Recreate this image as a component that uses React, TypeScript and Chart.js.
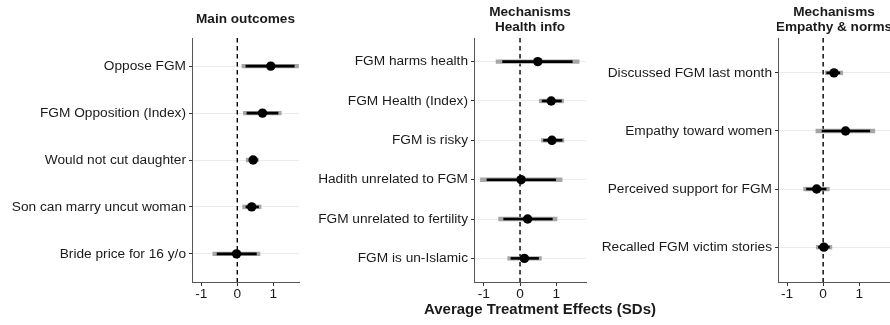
import React, { useEffect, useRef } from "react";
import { Chart, registerables } from "chart.js";

Chart.register(...registerables);

// Main outcomes
const mainLabels = [
  "Oppose FGM",
  "FGM Opposition (Index)",
  "Would not cut daughter",
  "Son can marry uncut woman",
  "Bride price for 16 y/o",
];
const mainEst = [0.93, 0.7, 0.44, 0.4, -0.02];
const mainLo90 = [0.23, 0.26, 0.33, 0.23, -0.57];
const mainHi90 = [1.59, 1.14, 0.56, 0.6, 0.54];
const mainLo95 = [0.12, 0.16, 0.24, 0.14, -0.69];
const mainHi95 = [1.71, 1.23, 0.6, 0.67, 0.64];

// Mechanisms: health information
const healthLabels = [
  "FGM harms health",
  "FGM Health (Index)",
  "FGM is risky",
  "Hadith unrelated to FGM",
  "FGM unrelated to fertility",
  "FGM is un-Islamic",
];
const healthEst = [0.49, 0.86, 0.88, 0.03, 0.21, 0.12];
const healthLo90 = [-0.49, 0.6, 0.64, -0.92, -0.46, -0.26];
const healthHi90 = [1.45, 1.15, 1.17, 0.99, 0.9, 0.52];
const healthLo95 = [-0.67, 0.52, 0.58, -1.1, -0.6, -0.35];
const healthHi95 = [1.64, 1.21, 1.22, 1.17, 1.03, 0.6];

// Mechanisms: empathy & norms
const normsLabels = [
  "Discussed FGM last month",
  "Empathy toward women",
  "Perceived support for FGM",
  "Recalled FGM victim stories",
];
const normsEst = [0.3, 0.62, -0.18, 0.02];
const normsLo90 = [0.09, -0.04, -0.47, -0.14];
const normsHi90 = [0.47, 1.3, 0.09, 0.18];
const normsLo95 = [0.05, -0.21, -0.55, -0.2];
const normsHi95 = [0.55, 1.44, 0.18, 0.25];

const xTickValues = [-1, 0, 1];
const xAxisTitle = "Average Treatment Effects (SDs)";

const FONT = "'Liberation Sans', Arial, Helvetica, sans-serif";
const TEXT = "#1a1a1a";

type PanelProps = {
  title: string[];
  labels: string[];
  est: number[];
  lo90: number[];
  hi90: number[];
  lo95: number[];
  hi95: number[];
  left: number;
  width: number;
  axisWidth: number;
  padRight: number;
  xMin: number;
  xMax: number;
};

const panelTitlePlugin = {
  id: "panelTitle",
  afterDraw(chart: any, _args: any, opts: any) {
    const { ctx, chartArea } = chart;
    const lines: string[] = opts.lines || [];
    ctx.save();
    ctx.beginPath();
    ctx.rect(chartArea.left - 1, 0, chart.width, chartArea.top);
    ctx.clip();
    ctx.fillStyle = TEXT;
    ctx.font = `bold 13.6px ${FONT}`;
    ctx.textAlign = "center";
    ctx.textBaseline = "middle";
    const cx = (chartArea.left + chartArea.right) / 2;
    const lh = 15;
    const startY = lines.length === 1 ? 19 : 12;
    lines.forEach((ln, i) => ctx.fillText(ln, cx, startY + i * lh));
    ctx.restore();
  },
};

function Panel(p: PanelProps) {
  const ref = useRef<HTMLCanvasElement | null>(null);

  useEffect(() => {
    const n = p.labels.length;
    const rows = p.labels.map((_, i) => i + 1);

    const datasets: any[] = [];
    // point estimates
    datasets.push({
      data: rows.map((y, i) => ({ x: p.est[i], y })),
      pointRadius: 4.7,
      pointBackgroundColor: "#000",
      pointBorderColor: "#000",
      pointBorderWidth: 0,
      showLine: false,
      order: 0,
    });
    // inner intervals
    rows.forEach((y, i) => {
      datasets.push({
        data: [
          { x: p.lo90[i], y },
          { x: p.hi90[i], y },
        ],
        showLine: true,
        borderColor: "#000",
        borderWidth: 2.6,
        borderCapStyle: "butt",
        pointRadius: 0,
        order: 1,
      });
    });
    // outer intervals
    rows.forEach((y, i) => {
      datasets.push({
        data: [
          { x: p.lo95[i], y },
          { x: p.hi95[i], y },
        ],
        showLine: true,
        borderColor: "#a6a6a6",
        borderWidth: 4.4,
        borderCapStyle: "butt",
        pointRadius: 0,
        order: 2,
      });
    });
    // reference line at zero
    datasets.push({
      data: [
        { x: 0, y: 0.4 },
        { x: 0, y: n + 0.6 },
      ],
      showLine: true,
      borderColor: "#000",
      borderWidth: 1.4,
      borderDash: [4.5, 3.5],
      pointRadius: 0,
      order: 3,
    });

    const chart = new Chart(ref.current as HTMLCanvasElement, {
      type: "scatter",
      data: { datasets },
      options: {
        animation: false,
        responsive: false,
        events: [],
        layout: {
          autoPadding: false,
          padding: { top: 38, left: 0, right: p.padRight, bottom: 0 },
        },
        plugins: {
          legend: { display: false },
          tooltip: { enabled: false },
          panelTitle: { lines: p.title },
        } as any,
        scales: {
          x: {
            type: "linear",
            min: p.xMin,
            max: p.xMax,
            afterBuildTicks: (s: any) => {
              s.ticks = xTickValues.map((v) => ({ value: v }));
            },
            afterFit: (s: any) => {
              s.height = 43;
            },
            ticks: {
              color: TEXT,
              font: { family: FONT, size: 13.7 },
              padding: 0,
              maxRotation: 0,
              autoSkip: false,
              callback: (v: any) => String(v),
            },
            grid: {
              drawOnChartArea: false,
              tickLength: 4,
              tickColor: "#333",
              tickWidth: 1,
            },
            border: { color: "#555", width: 1 },
          },
          y: {
            type: "linear",
            reverse: true,
            min: 0.4,
            max: n + 0.6,
            afterBuildTicks: (s: any) => {
              s.ticks = rows.map((v) => ({ value: v }));
            },
            afterFit: (s: any) => {
              s.width = p.axisWidth;
            },
            ticks: {
              color: TEXT,
              font: { family: FONT, size: 13.7 },
              padding: 3,
              autoSkip: false,
              callback: (v: any) => p.labels[Math.round(v) - 1] ?? "",
            },
            grid: {
              color: "#ebebeb",
              lineWidth: 1,
              tickLength: 3,
              tickColor: "#333",
              tickWidth: 1,
            },
            border: { color: "#555", width: 1 },
          },
        },
      } as any,
      plugins: [panelTitlePlugin],
    });
    return () => chart.destroy();
  }, []);

  return (
    <canvas
      ref={ref}
      width={p.width}
      height={325}
      style={{ position: "absolute", left: p.left, top: 0, width: p.width, height: 325 }}
    />
  );
}

export default function App() {
  return (
    <div
      style={{
        position: "absolute",
        left: 0,
        top: 0,
        width: 890,
        height: 325,
        background: "#fff",
        overflow: "hidden",
      }}
    >
      <Panel
        title={["Main outcomes"]}
        labels={mainLabels}
        est={mainEst}
        lo90={mainLo90}
        hi90={mainHi90}
        lo95={mainLo95}
        hi95={mainHi95}
        left={0}
        width={300}
        axisWidth={192}
        padRight={1}
        xMin={-1.258}
        xMax={1.714}
      />
      <Panel
        title={["Mechanisms", "Health info"]}
        labels={healthLabels}
        est={healthEst}
        lo90={healthLo90}
        hi90={healthHi90}
        lo95={healthLo95}
        hi95={healthHi95}
        left={300}
        width={290}
        axisWidth={174}
        padRight={4}
        xMin={-1.27}
        xMax={1.82}
      />
      <Panel
        title={["Mechanisms", "Empathy & norms"]}
        labels={normsLabels}
        est={normsEst}
        lo90={normsLo90}
        hi90={normsHi90}
        lo95={normsLo95}
        hi95={normsHi95}
        left={590}
        width={300}
        axisWidth={188}
        padRight={0}
        xMin={-1.25}
        xMax={1.85}
      />
      <div
        style={{
          position: "absolute",
          left: 340,
          top: 300,
          width: 400,
          textAlign: "center",
          fontFamily: FONT,
          fontWeight: "bold",
          fontSize: 15,
          lineHeight: "18px",
          color: TEXT,
          whiteSpace: "nowrap",
        }}
      >
        {xAxisTitle}
      </div>
    </div>
  );
}
